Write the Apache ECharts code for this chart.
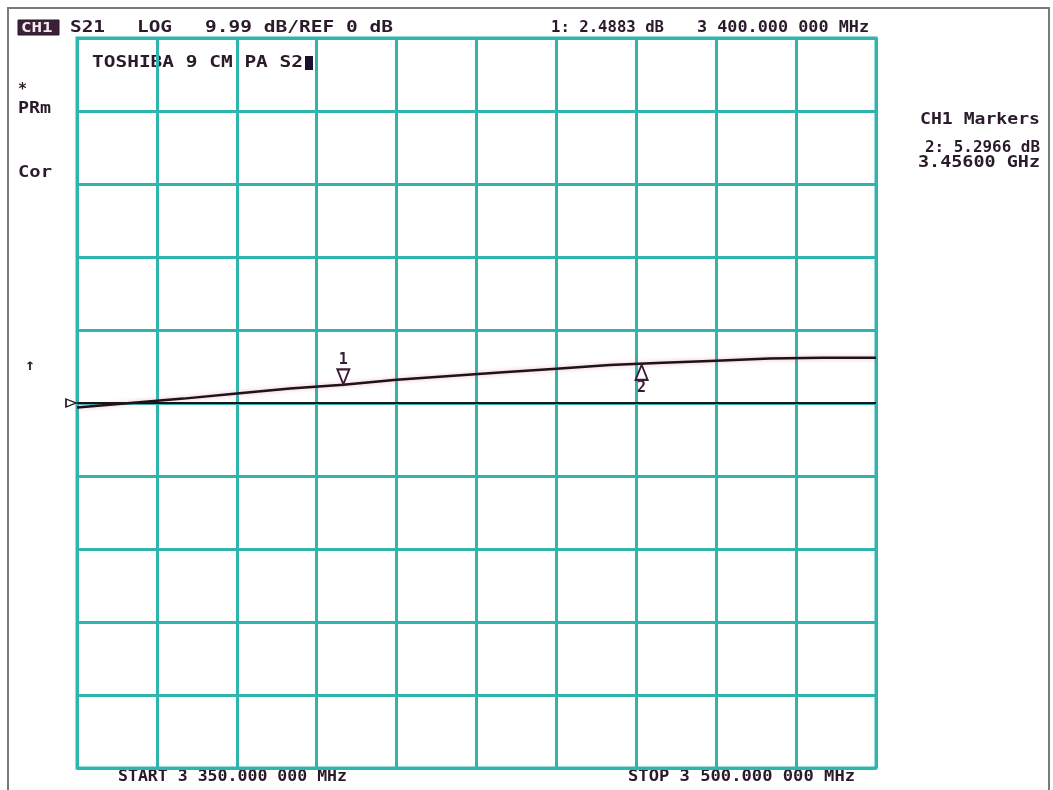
<!DOCTYPE html>
<html>
<head>
<meta charset="utf-8">
<script src="https://cdn.jsdelivr.net/npm/echarts@6/dist/echarts.min.js"></script>
<style>
  html, body { margin: 0; padding: 0; background: #fff; }
  #chart { width: 1053px; height: 790px; }
</style>
</head>
<body>
<div id="chart"></div>
<script>
// sweep 3350 - 3500 MHz, S21 in dB
var freqs = [3350, 3360, 3370, 3380, 3390, 3400, 3410, 3420, 3430, 3440, 3450, 3460, 3470, 3480, 3490, 3500];
var s21 = [-0.6, 0.0, 0.6, 1.3, 2.0, 2.5, 3.2, 3.7, 4.2, 4.7, 5.2, 5.5, 5.8, 6.1, 6.2, 6.2];
var marker1 = [3400, 2.4883];
var marker2 = [3456, 5.2966];
var refLevel = 0;

var TEAL = '#2fb4ae';
var INK = '#2a1a2a';
var MONO = '"DejaVu Sans Mono", monospace';

var chart = echarts.init(document.getElementById('chart'));

// text stretched to the width it has on the analyzer screen
function txt(str, x, y, w, size) {
  size = size || 16;
  return {
    type: 'text', x: x, y: y,
    scaleX: w / (str.length * 0.602 * size),
    style: {
      text: str, font: 'bold ' + size + 'px ' + MONO, fill: INK,
      textVerticalAlign: 'middle', verticalAlign: 'middle'
    }
  };
}

var markLabel = {
  show: true, color: '#3a1c34', fontFamily: 'DejaVu Sans Mono',
  fontWeight: 'bold', fontSize: 15
};

var option = {
  backgroundColor: '#fff',
  animation: false,
  grid: {
    left: 77, top: 38, width: 799, height: 730,
    show: true, borderColor: TEAL, borderWidth: 3
  },
  xAxis: [
    {
      type: 'value', min: 3350, max: 3500,
      axisLine: { show: false }, axisTick: { show: false },
      axisLabel: { show: false }, splitLine: { show: false }
    },
    {
      // ten screen divisions
      type: 'value', min: 0, max: 10, interval: 1,
      axisLine: { show: false }, axisTick: { show: false },
      axisLabel: { show: false },
      splitLine: { show: true, lineStyle: { color: TEAL, width: 3 } }
    }
  ],
  yAxis: {
    type: 'value', min: -50, max: 50, interval: 10,
    axisLine: { show: false }, axisTick: { show: false },
    axisLabel: { show: false },
    splitLine: { show: true, lineStyle: { color: TEAL, width: 3 } }
  },
  series: [
    {
      type: 'line',
      xAxisIndex: 0,
      data: freqs.map(function (f, i) { return [f, s21[i]]; }),
      showSymbol: false,
      lineStyle: {
        color: '#1c1418', width: 2.5,
        shadowColor: 'rgba(225,120,160,0.55)', shadowBlur: 4
      },
      markLine: {
        silent: true, symbol: 'none',
        label: { show: false },
        lineStyle: { color: '#1c1418', width: 2, type: 'solid' },
        data: [{ yAxis: refLevel }]
      },
      markPoint: {
        silent: true,
        data: [
          {
            coord: [3350, refLevel],
            symbol: 'path://M0,0 L10,5 L0,10 Z', symbolSize: [10, 8],
            symbolOffset: [-6, 0],
            itemStyle: { color: '#fff', borderColor: '#1c1418', borderWidth: 1.5 },
            label: { show: false }
          },
          {
            coord: marker1,
            symbol: 'path://M0,0 L12,0 L6,14 Z', symbolSize: [12, 15],
            symbolOffset: [0, -8],
            itemStyle: { color: '#fff', borderColor: '#3a1c34', borderWidth: 2 },
            label: Object.assign({ formatter: '1', position: 'top', distance: 1 }, markLabel)
          },
          {
            coord: marker2,
            symbol: 'path://M6,0 L12,14 L0,14 Z', symbolSize: [12, 15],
            symbolOffset: [0, 8],
            itemStyle: { color: '#fff', borderColor: '#3a1c34', borderWidth: 2 },
            label: Object.assign({ formatter: '2', position: 'bottom', distance: 0 }, markLabel)
          }
        ]
      }
    }
  ],
  graphic: [
    {
      type: 'rect', shape: { x: 8, y: 8, width: 1041, height: 800 },
      style: { fill: 'none', stroke: '#7a7a7a', lineWidth: 2 }, silent: true
    },
    {
      type: 'rect', shape: { x: 18, y: 20, width: 41, height: 15 },
      style: { fill: '#3b2036', stroke: INK, lineWidth: 1 }
    },
    {
      type: 'text', x: 21, y: 28,
      scaleX: 1.25,
      style: {
        text: 'CH1', font: 'bold 14px ' + MONO, fill: '#f5e9ef',
        textVerticalAlign: 'middle', verticalAlign: 'middle'
      }
    },
    txt('S21', 70, 28, 35),
    txt('LOG', 137, 28, 35),
    txt('9.99 dB/REF 0 dB', 205, 28, 188),
    txt('1: 2.4883 dB', 551, 28, 113),
    txt('3 400.000 000 MHz', 697, 28, 172),
    txt('TOSHIBA 9 CM PA S2', 92, 63, 211),
    {
      type: 'rect', shape: { x: 305, y: 56, width: 8, height: 14 },
      style: { fill: '#1a1030' }
    },
    txt('*', 18, 90, 9),
    txt('PRm', 18, 109, 33),
    txt('Cor', 18, 173, 34),
    txt('\u2191', 25, 366, 10),
    txt('CH1 Markers', 920, 120, 120, 15),
    txt('2: 5.2966 dB', 925, 148, 115, 15),
    txt('3.45600 GHz', 918, 163, 122, 15),
    txt('START 3 350.000 000 MHz', 118, 777, 229, 15),
    txt('STOP 3 500.000 000 MHz', 628, 777, 227, 15)
  ]
};

chart.setOption(option);
</script>
</body>
</html>
